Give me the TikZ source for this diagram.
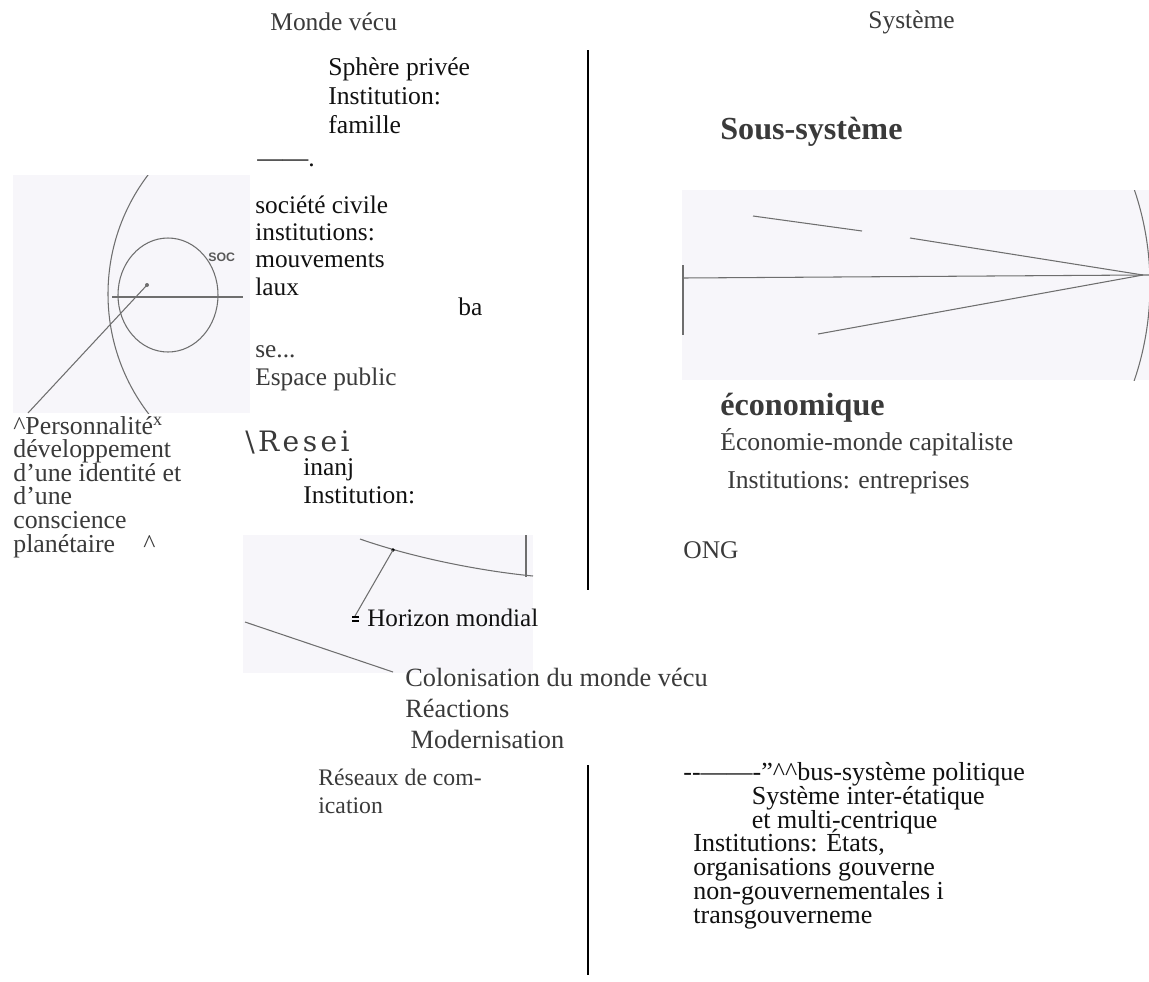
\documentclass[tikz,border=0pt]{standalone}
\usepackage{fontspec}
\setmainfont{Liberation Serif}
\setsansfont{Liberation Sans}
\newfontfamily\widefont[LetterSpace=12]{DejaVu Serif}
\newcommand\tightlines{\lineskiplimit=-10pt\relax}
\definecolor{ink}{HTML}{111111}
\definecolor{grayink}{HTML}{3A3A3A}
\definecolor{patch}{HTML}{F7F6FA}
\definecolor{penline}{HTML}{6E6E6E}
\tikzset{
  txt/.style={inner sep=0pt, anchor=base west, align=left, text=ink},
  gtxt/.style={txt, text=grayink},
  pen/.style={draw=penline, line width=0.6pt},
  axis/.style={draw=black, line width=1.3pt}
}
\begin{document}
\begin{tikzpicture}[x=0.02cm, y=-0.02cm]
    \fill[white] (0,0) rectangle (1149,981);
    \useasboundingbox (0,0) rectangle (1149,981);
    \fill[patch] (13,175) rectangle (250,413);
    \fill[patch] (682,190) rectangle (1149,380);
    \fill[patch] (243,535) rectangle (533,673);
    % left figure
    \begin{scope}
        \clip (13,175) rectangle (250,413);
        \coordinate (pdot) at (147,285);
        \coordinate (pfoot) at (28,413);
        \draw[pen] (305,294) circle[radius=197];
        \draw[pen] (168,295) ellipse[x radius=50, y radius=57];
        \draw[pen] (112,297) -- (243,297);
        \fill[penline] (pdot) circle[radius=2];
        \draw[pen] (pdot) -- (pfoot);
    \end{scope}
    % right figure
    \begin{scope}
        \clip (682,190) rectangle (1149,380);
        \coordinate (apex) at (1143,275);
        \draw[pen] (683,265) -- (683,335);
        \draw[pen] (683,278) -- (apex) -- (1149,275);
        \draw[pen] (910,238) -- (apex);
        \draw[pen] (818,334) -- (apex);
        \draw[pen] (753,216) -- (862,231);
        \draw[pen] (854,285) circle[radius=296];
    \end{scope}
    % lower figure
    \coordinate (hdot) at (393,550);
    \coordinate (hmark) at (355,616);
    \draw[pen] (360,539) .. controls (420,560) and (490,572) .. (533,576);
    \draw[pen] (526,535) -- (526,577);
    \fill[black] (hdot) circle[radius=1.8];
    \draw[pen] (hdot) -- (hmark);
    \draw[black, line width=1pt] (352,617) -- (359,617) (352,621) -- (359,621);
    \draw[pen] (245,622) -- (393,672);
    \draw[axis] (588,50) -- (588,590);
    \draw[axis] (588,765) -- (588,975);

    % multi-line nodes sit on the baseline of their last line
    \node[gtxt, font=\fontsize{14.5}{16}\selectfont] (monde) at (270,30) {Monde vécu};
    \node[gtxt, font=\fontsize{14.5}{16}\selectfont] (systeme) at (868,28) {Système};
    \node[txt, font=\fontsize{14.6}{16.5}\selectfont] (privee) at (328,133) {Sphère privée\\Institution:\\famille};
    \node[txt, font=\fontsize{14.5}{16}\selectfont] (tiret) at (257,166) {——.};
    \node[txt, font=\fontsize{14.4}{15.5}\selectfont] (civile) at (255,295) {société civile\\institutions:\\mouvements\\laux};
    \node[inner sep=0pt, anchor=base west, text=black!65, font=\sffamily\bfseries\fontsize{7}{8}\selectfont] (soc) at (208,261) {SOC};
    \node[txt, font=\fontsize{14.5}{16}\selectfont] (ba) at (458,315) {ba};
    \node[gtxt, font=\fontsize{14.4}{15.4}\selectfont] (public) at (255,385) {se...\\Espace public};
    \node[gtxt, font=\fontsize{14.7}{13.4}\selectfont\tightlines] (perso) at (13,552) {\textasciicircum Personnalité\textsuperscript{x}\\développement\\d'une identité et\\d'une\\conscience\\planétaire\hspace{16pt}\textasciicircum};
    \node[gtxt, font=\widefont\fontsize{16}{17}\selectfont] (resei) at (245,451) {\textbackslash Resei};
    \node[txt, font=\fontsize{14.5}{15.4}\selectfont] (inanj) at (303,503) {inanj\\Institution:};
    \node[txt, font=\fontsize{14.3}{15}\selectfont] (horizon) at (367,626) {Horizon mondial};
    \node[gtxt, font=\fontsize{15}{17.6}\selectfont] (colon) at (405,748) {Colonisation du monde vécu\\Réactions\\\hspace*{3pt}Modernisation};
    \node[gtxt, font=\fontsize{13.5}{15.9}\selectfont] (reseaux) at (318,813) {Réseaux de com-\\ication};
    \node[gtxt, font=\bfseries\fontsize{18.3}{20}\selectfont] (sous) at (720,139) {Sous-système};
    \node[gtxt, font=\bfseries\fontsize{18.3}{20}\selectfont] (econ) at (720,415) {économique};
    \node[gtxt, font=\fontsize{14.6}{16}\selectfont] (capital) at (720,450) {Économie-monde capitaliste};
    \node[gtxt, font=\fontsize{14.6}{16}\selectfont] (entre) at (727,488) {Institutions: entreprises};
    \node[gtxt, font=\fontsize{14.5}{16}\selectfont] (ong) at (683,558) {ONG};
    \node[txt, font=\fontsize{14.8}{13.5}\selectfont\tightlines] (politique) at (683,923) {-{}-——-"\textasciicircum\textasciicircum bus-système politique\\\hspace*{39pt}Système inter-étatique\\\hspace*{39pt}et multi-centrique\\\hspace*{5.7pt}Institutions: États,\\\hspace*{5.7pt}organisations gouverne\\\hspace*{5.7pt}non-gouvernementales i\\\hspace*{5.7pt}transgouverneme};
\end{tikzpicture}
\end{document}
